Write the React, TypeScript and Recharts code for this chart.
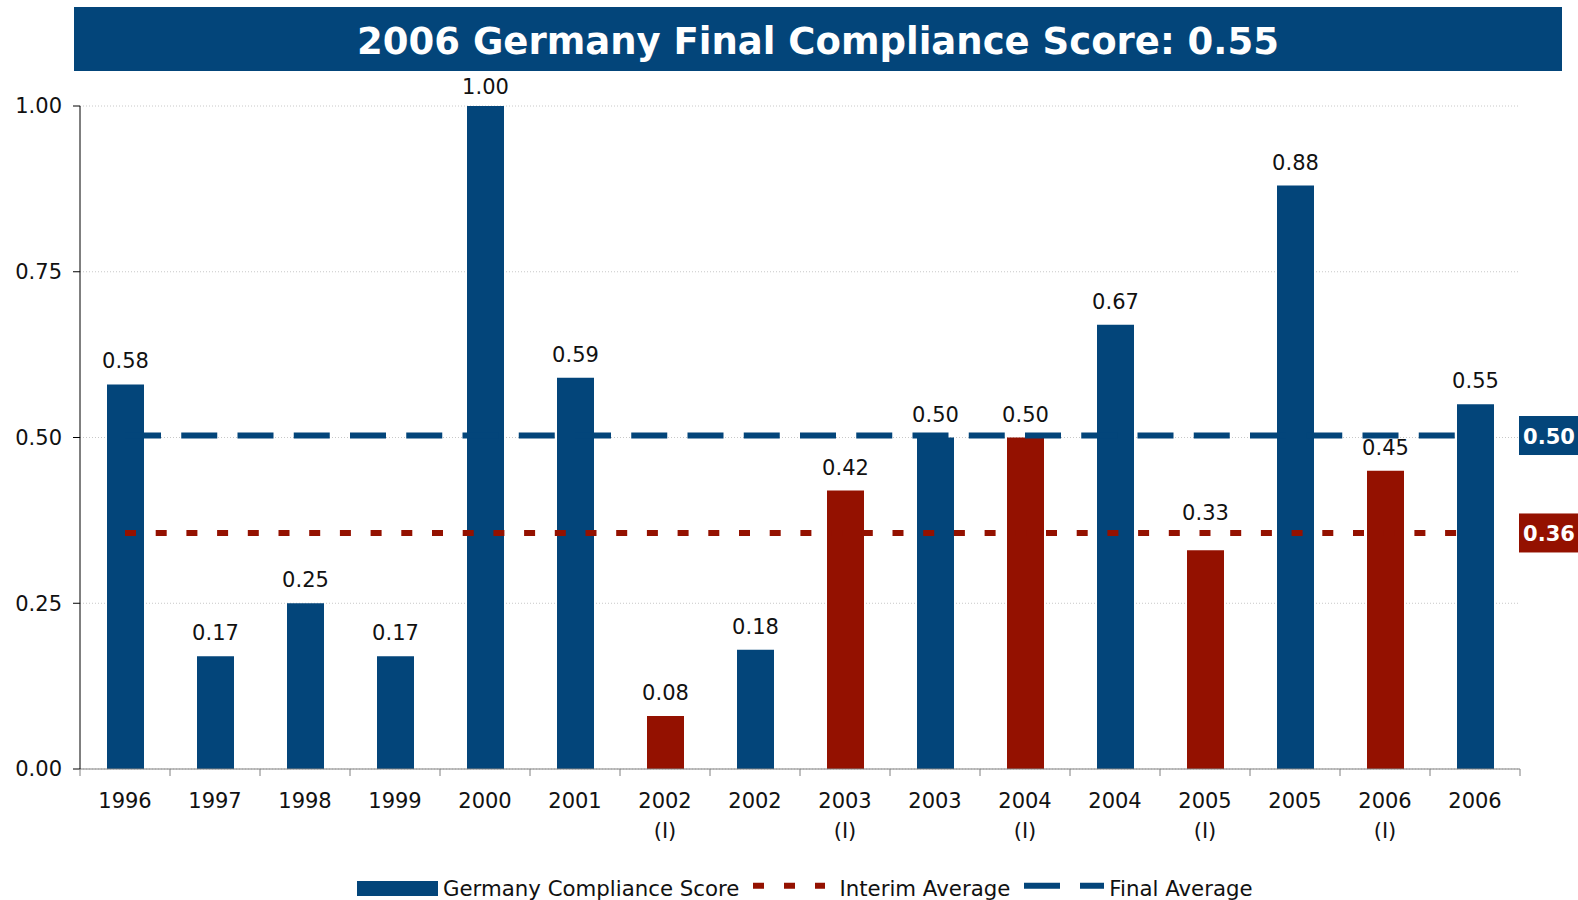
import React from 'react';
import { ComposedChart, Bar, Line, XAxis, YAxis, CartesianGrid, Cell, LabelList, Legend } from 'recharts';

const CATEGORIES = ['1996', '1997', '1998', '1999', '2000', '2001', '2002 (I)', '2002', '2003 (I)', '2003', '2004 (I)', '2004', '2005 (I)', '2005', '2006 (I)', '2006'];
const SCORES = [0.58, 0.17, 0.25, 0.17, 1.0, 0.59, 0.08, 0.18, 0.42, 0.5, 0.5, 0.67, 0.33, 0.88, 0.45, 0.55];
const INTERIM_AVERAGE = 0.356;
const FINAL_AVERAGE = 0.503;
const Y_TICKS = [0, 0.25, 0.5, 0.75, 1];
const TITLE = '2006 Germany Final Compliance Score: 0.55';
const SERIES_NAMES = ['Germany Compliance Score', 'Interim Average', 'Final Average'];

const BLUE = '#03457A';
const RED = '#941100';
const FONT = '"DejaVu Sans", Verdana, sans-serif';
const RED_DASH = '11 19.7';
const BLUE_DASH = '36 20.25';

const W = 1578;
const H = 900;
const MARGIN = { top: 106, right: 58, left: 0, bottom: 61 };
const Y_AXIS_W = 80;
const X_AXIS_H = 70;
const PLOT_W = W - MARGIN.left - MARGIN.right - Y_AXIS_W;
const HALF_BAND = PLOT_W / CATEGORIES.length / 2;

const data = CATEGORIES.map((c, i) => ({
  category: c,
  score: SCORES[i],
  interim: INTERIM_AVERAGE,
  final: FINAL_AVERAGE,
  isInterim: c.includes('(I)'),
}));

const XTick = (props: any) => {
  const { x, y, payload } = props;
  const value = String(payload.value);
  const lines = value.split(' ');
  const isLast = value === CATEGORIES[CATEGORIES.length - 1];
  return (
    <g>
      <line x1={x - HALF_BAND} x2={x - HALF_BAND} y1={y} y2={y + 7} stroke="#808080" strokeWidth={1} />
      {isLast && <line x1={x + HALF_BAND} x2={x + HALF_BAND} y1={y} y2={y + 7} stroke="#808080" strokeWidth={1} />}
      <text x={x} y={y} textAnchor="middle" fontSize={21} fill="#111" fontFamily={FONT}>
        {lines.map((l, i) => (
          <tspan key={i} x={x} dy={i === 0 ? 39 : 30}>
            {l}
          </tspan>
        ))}
      </text>
    </g>
  );
};

// Value label above each bar; moved up when it would collide with an average line,
// and kept inside the chart area below the title.
const BarValueLabel = (props: any) => {
  const vb = props.viewBox && props.viewBox.width != null ? props.viewBox : props;
  const { x, y, width, height } = vb;
  const value = Number(props.value);
  const cx = x + width / 2;
  const base = y + height;
  const perUnit = value ? height / value : 0;
  const capH = 15.3;
  let baseline = y - 16;
  [INTERIM_AVERAGE, FINAL_AVERAGE].forEach((avg) => {
    const ly = base - avg * perUnit;
    if (baseline + 1 > ly - 3 && baseline - capH < ly + 3) baseline = ly - 13;
  });
  baseline = Math.max(baseline, MARGIN.top - 12);
  return (
    <text x={cx} y={baseline} textAnchor="middle" fontSize={21} fill="#111" fontFamily={FONT}>
      {value.toFixed(2)}
    </text>
  );
};

const makeEndLabel = (color: string) => (props: any) => {
  const { index, value } = props;
  if (index !== CATEGORIES.length - 1) return null;
  const vx = props.viewBox && props.viewBox.x != null ? props.viewBox.x : props.x;
  const vy = props.viewBox && props.viewBox.y != null ? props.viewBox.y : props.y;
  const cx = vx + 74;
  return (
    <g>
      <rect x={cx - 30} y={vy - 19.5} width={60} height={39} fill={color} />
      <text x={cx} y={vy + 1} textAnchor="middle" dominantBaseline="central" fill="#fff" fontWeight="bold" fontSize={21} fontFamily={FONT}>
        {Number(value).toFixed(2)}
      </text>
    </g>
  );
};

const CustomLegend = () => (
  <div style={{ display: 'flex', alignItems: 'flex-start', paddingLeft: 357, height: 24, fontFamily: FONT, fontSize: 21.3, lineHeight: '24px', color: '#111', whiteSpace: 'nowrap' }}>
    <svg width={81} height={24} style={{ marginRight: 5, display: 'block' }}>
      <rect x={0} y={4} width={81} height={15} fill={BLUE} />
    </svg>
    <span style={{ marginRight: 14 }}>{SERIES_NAMES[0]}</span>
    <svg width={72} height={24} style={{ marginRight: 14, display: 'block' }}>
      <line x1={0} x2={72} y1={8.7} y2={8.7} stroke={RED} strokeWidth={6} strokeDasharray="11 20" />
    </svg>
    <span style={{ marginRight: 14 }}>{SERIES_NAMES[1]}</span>
    <svg width={80} height={24} style={{ marginRight: 5, display: 'block' }}>
      <line x1={0} x2={80} y1={8.7} y2={8.7} stroke={BLUE} strokeWidth={6} strokeDasharray="36 20" />
    </svg>
    <span>{SERIES_NAMES[2]}</span>
  </div>
);

export default function App() {
  return (
    <div style={{ position: 'absolute', left: 0, top: 0, width: W, height: H, fontFamily: FONT, background: '#fff' }}>
      <ComposedChart width={W} height={H} data={data} margin={MARGIN}>
        <CartesianGrid vertical={false} stroke="#c8c8c8" strokeDasharray="1 2" />
        <XAxis
          dataKey="category"
          interval={0}
          height={X_AXIS_H}
          tickLine={false}
          tickSize={0}
          tickMargin={0}
          axisLine={{ stroke: '#808080' }}
          tick={<XTick />}
        />
        <YAxis
          domain={[0, 1]}
          ticks={Y_TICKS}
          interval={0}
          width={Y_AXIS_W}
          tickSize={7}
          tickMargin={11}
          tickFormatter={(v: number) => v.toFixed(2)}
          axisLine={{ stroke: '#000' }}
          tickLine={{ stroke: '#000' }}
          tick={{ fontSize: 21, fill: '#111', fontFamily: FONT }}
        />
        <Bar dataKey="score" name={SERIES_NAMES[0]} barSize={37} isAnimationActive={false}>
          {data.map((d, i) => (
            <Cell key={i} fill={d.isInterim ? RED : BLUE} />
          ))}
          <LabelList dataKey="score" content={BarValueLabel} />
        </Bar>
        <Line
          dataKey="interim"
          name={SERIES_NAMES[1]}
          stroke={RED}
          strokeWidth={6}
          strokeDasharray={RED_DASH}
          strokeLinecap="butt"
          dot={false}
          activeDot={false}
          isAnimationActive={false}
        >
          <LabelList dataKey="interim" content={makeEndLabel(RED)} />
        </Line>
        <Line
          dataKey="final"
          name={SERIES_NAMES[2]}
          stroke={BLUE}
          strokeWidth={6}
          strokeDasharray={BLUE_DASH}
          strokeLinecap="butt"
          dot={false}
          activeDot={false}
          isAnimationActive={false}
        >
          <LabelList dataKey="final" content={makeEndLabel(BLUE)} />
        </Line>
        <Legend
          verticalAlign="middle"
          layout="horizontal"
          align="center"
          wrapperStyle={{ top: 877, left: 0, width: W }}
          content={<CustomLegend />}
        />
      </ComposedChart>
      <div
        style={{
          position: 'absolute',
          left: 74,
          top: 7,
          width: 1488,
          height: 64,
          background: BLUE,
          color: '#fff',
          fontSize: 37,
          fontWeight: 'bold',
          fontFamily: FONT,
          display: 'flex',
          alignItems: 'center',
          justifyContent: 'center',
          paddingTop: 4,
          boxSizing: 'border-box',
          whiteSpace: 'nowrap',
        }}
      >
        {TITLE}
      </div>
    </div>
  );
}
